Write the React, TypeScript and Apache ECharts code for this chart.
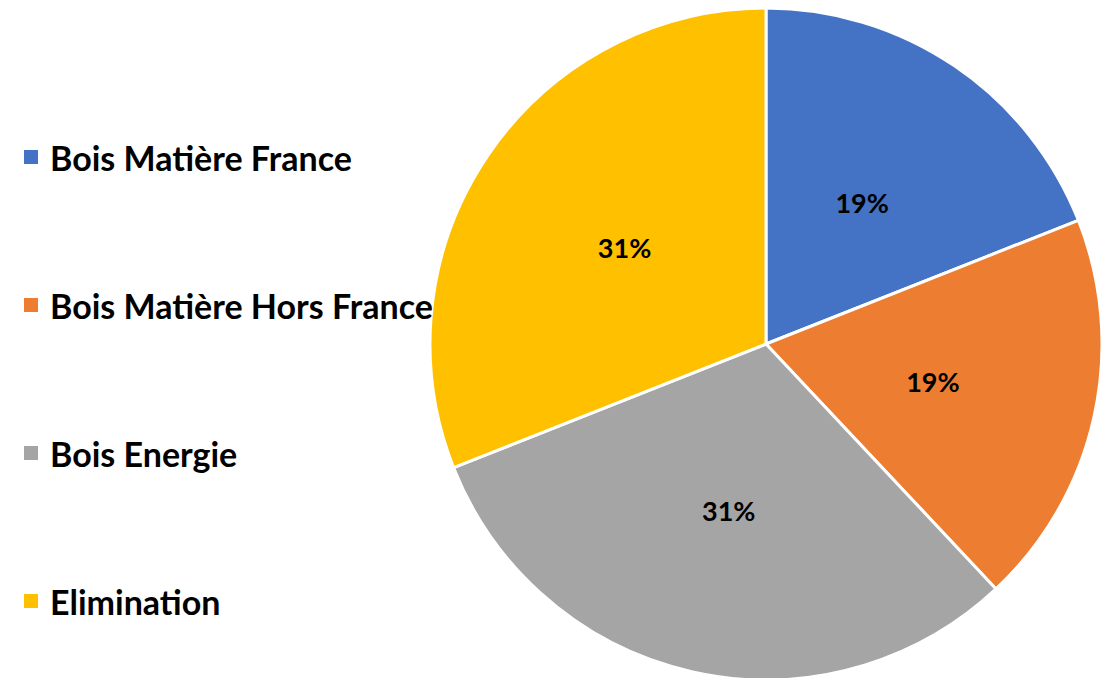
import React, { useEffect, useRef } from "react";
import * as echarts from "echarts";

const categories = ["Bois Matière France", "Bois Matière Hors France", "Bois Energie", "Elimination"];
const values = [19, 19, 31, 31];
const colors = ["#4472C4", "#ED7D31", "#A5A5A5", "#FFC000"];

export default function App() {
  const ref = useRef<HTMLDivElement>(null);
  useEffect(() => {
    if (!ref.current) return;
    const chart = echarts.init(ref.current, undefined, { renderer: "svg" });
    chart.setOption({
      animation: false,
      backgroundColor: "#ffffff",
      color: colors,
      legend: {
        orient: "vertical",
        left: 17,
        top: 135,
        height: 540,
        itemWidth: 16,
        itemHeight: 16,
        itemGap: 114,
        icon: "rect",
        selectedMode: false,
        textStyle: {
          fontFamily: "Lato",
          fontWeight: "bold",
          fontSize: 34,
          color: "#000000",
          padding: [0, 0, 0, 6],
        },
        data: categories,
      },
      series: [
        {
          type: "pie",
          center: [766, 344],
          radius: [0, 336],
          startAngle: 90,
          clockwise: true,
          itemStyle: { borderColor: "#ffffff", borderWidth: 3 },
          label: {
            show: true,
            position: "inside",
            formatter: (p: any) => Math.round(p.percent) + "%",
            fontFamily: "Lato",
            fontWeight: "bold",
            fontSize: 27,
            color: "#000000",
          },
          labelLine: { show: false },
          emphasis: { disabled: true },
          data: categories.map((name, i) => ({ name, value: values[i] })),
        },
      ],
    });
    return () => chart.dispose();
  }, []);
  return <div ref={ref} style={{ position: "fixed", left: 0, top: 0, width: 1115, height: 678 }} />;
}
